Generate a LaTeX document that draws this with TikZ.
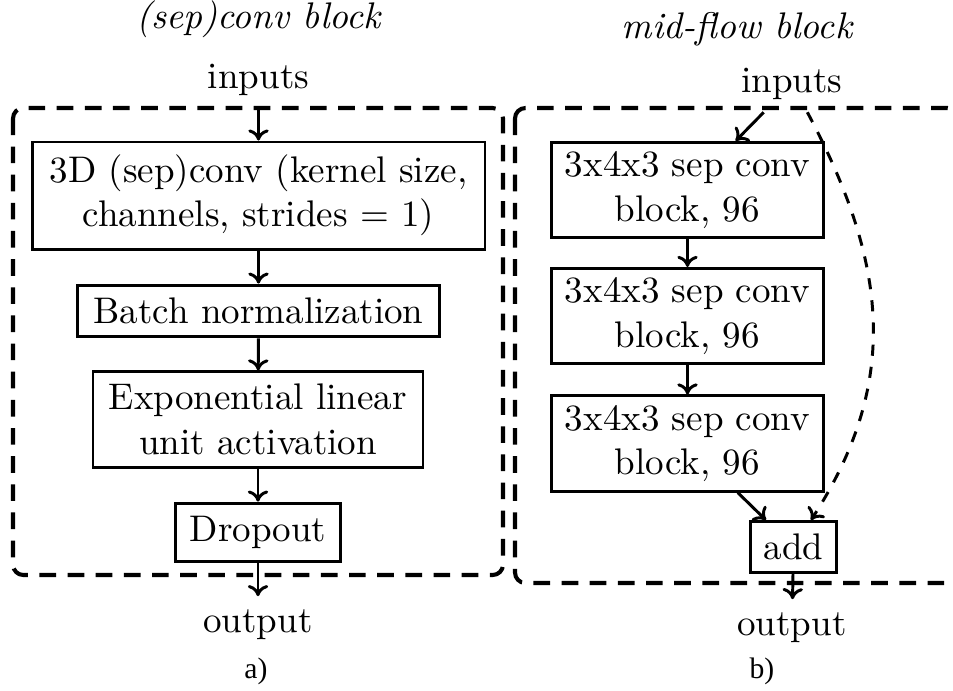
\documentclass[tikz,border=0pt]{standalone}
\usepackage{fontspec}
\newfontfamily\capfont{Liberation Serif}
\usetikzlibrary{arrows.meta}
\tikzset{
  blk/.style={draw, thick, align=center, inner sep=3.33pt},
  sblk/.style={blk, inner ysep=2.5pt, minimum width=73.2pt},
  arr/.style={-{To[length=3pt,width=5.5pt]}, thick},
  res/.style={-{To[length=3pt,width=5.5pt]}, thick, dashed},
  grp/.style={line width=1.1pt, dash pattern=on 4.5pt off 3.1pt, rounded corners=2.8pt},
  lbl/.style={anchor=base, inner sep=3.33pt},
  ttl/.style={anchor=base, font=\itshape},
  subcap/.style={anchor=base, font=\capfont\fontsize{8}{10}\selectfont},
}
\begin{document}
\begin{tikzpicture}[x=0.27pt, y=-0.27pt]
  \useasboundingbox (0,0) rectangle (953,690);
  % groups
  \draw[grp] (13,108) rectangle (503,575);
  \draw[grp] (515,108) rectangle (958,583);
  % a) (sep)conv block
  \node[ttl] (t1) at (258.5,28) {(sep)conv block};
  \node[lbl] (in1) at (258.5,88) {inputs};
  \node[blk, minimum width=122.3pt, minimum height=28.9pt] (c1) at (258.5,195.5) {3D (sep)conv (kernel size,\\ channels, strides $=$ 1)};
  \node[blk, minimum width=97.5pt, minimum height=14pt] (c2) at (258.5,311) {Batch normalization};
  \node[blk, minimum width=89.1pt, minimum height=25.7pt] (c3) at (258,419.5) {Exponential linear\\ unit activation};
  \node[blk, minimum width=44.8pt, minimum height=15.9pt] (c4) at (258,532.5) {Dropout};
  \node[lbl] (out1) at (258,632) {output};
  \foreach \a/\b in {in1/c1,c1/c2,c2/c3,c3/c4,c4/out1} \draw[arr] (\a) -- (\b);
  \node[subcap] (la) at (256,678) {a)};
  % b) mid-flow block
  \node[ttl] (t2) at (737,38) {mid-flow block};
  \node[lbl] (in2) at (792,92) {inputs};
  \node[sblk] (s1) at (687.5,190) {3x4x3 sep conv\\ block, 96};
  \node[sblk] (s2) at (687.5,316) {3x4x3 sep conv\\ block, 96};
  \node[sblk] (s3) at (687.5,443.5) {3x4x3 sep conv\\ block, 96};
  \node[blk, minimum width=23pt, minimum height=13pt] (add) at (793.5,547) {add};
  \node[lbl] (out2) at (792,635) {output};
  \foreach \a/\b in {in2/s1,s1/s2,s2/s3,s3/add,add/out2} \draw[arr] (\a) -- (\b);
  \draw[res] (in2) to[out=-62, in=57, looseness=1.05] (add);
  \node[subcap] (lb) at (762,678) {b)};
\end{tikzpicture}
\end{document}
